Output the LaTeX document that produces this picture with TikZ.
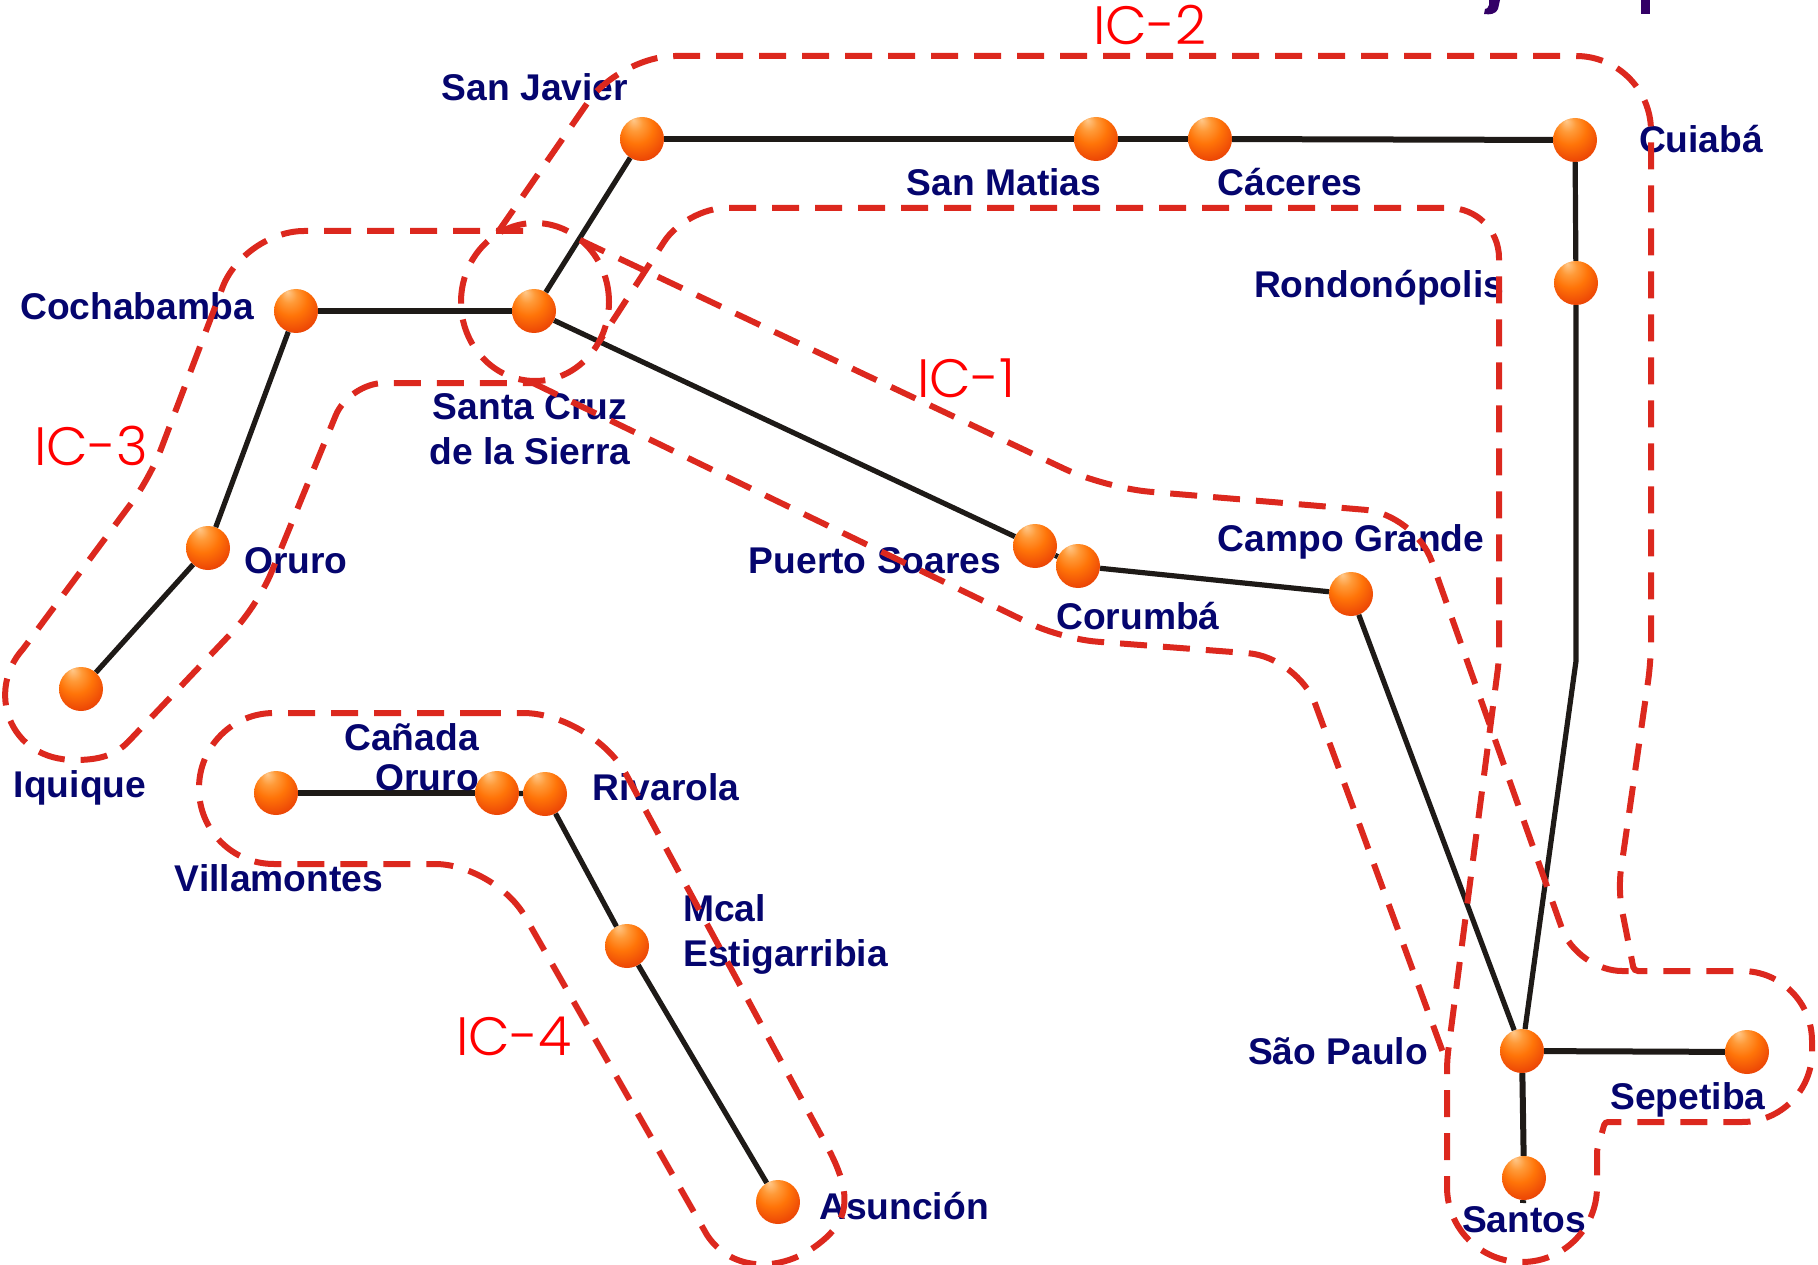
\documentclass[tikz,border=0pt]{standalone}
\usepackage{fontspec}
\setmainfont{Liberation Sans}
\newfontfamily\zonefont{Poppins Light}
\definecolor{dashred}{HTML}{DC281E}
\definecolor{labelblue}{HTML}{05056E}
\definecolor{linedark}{HTML}{1E1A17}
\definecolor{titlepurple}{HTML}{330066}
\definecolor{ballA}{HTML}{FFC88A}
\definecolor{ballB}{HTML}{FF9A38}
\definecolor{ballC}{HTML}{FF7408}
\definecolor{ballD}{HTML}{EE4A06}
\definecolor{ballE}{HTML}{D02A00}
\definecolor{ballF}{HTML}{B81E00}
\pgfdeclareradialshading{ballorange}{\pgfpoint{-10bp}{22bp}}{
  color(0bp)=(ballA); color(9bp)=(ballB); color(19bp)=(ballC); color(31bp)=(ballD); color(42bp)=(ballE); color(50bp)=(ballF)}
\tikzset{
  dotball/.style={circle,minimum size=44pt,inner sep=0pt,shading=ballorange},
  link/.style={draw=linedark,line width=5.2pt},
  thicklink/.style={draw=linedark,line width=6pt},
  zone/.style={draw=dashred,line width=6pt,dash pattern=on 27pt off 16pt},
  place/.style={text=labelblue,inner sep=0pt,font=\bfseries\fontsize{37.2}{45}\selectfont},
  zonename/.style={text=red,inner sep=0pt,font=\zonefont\fontsize{54}{60}\selectfont}
}
\begin{document}
\begin{tikzpicture}[x=1pt,y=-1pt]
\useasboundingbox (0,0) rectangle (1818,1265);
% clipped title fragments
\fill[titlepurple] (1641,0) rectangle (1650,14);
\fill[titlepurple] (1489,0) -- (1500,0) -- (1498,9) .. controls (1496,14) and (1490,15) .. (1484,14) -- (1485,9) .. controls (1487,9) and (1488,8) .. (1489,5) -- cycle;
\coordinate (bend) at (1576,661);
\coordinate (santostail) at (1523,1203);
% dots
\node[dotball] (sanjavier) at (642,139) {};
\node[dotball] (sanmatias) at (1096,139) {};
\node[dotball] (caceres) at (1210,139) {};
\node[dotball] (cuiaba) at (1575,140) {};
\node[dotball] (rondonopolis) at (1576,283) {};
\node[dotball] (santacruz) at (534,311) {};
\node[dotball] (cochabamba) at (296,311) {};
\node[dotball] (oruro) at (208,548) {};
\node[dotball] (iquique) at (81,689) {};
\node[dotball] (puertosoares) at (1035,546) {};
\node[dotball] (corumba) at (1078,566) {};
\node[dotball] (campogrande) at (1351,594) {};
\node[dotball] (saopaulo) at (1522,1051) {};
\node[dotball] (sepetiba) at (1747,1052) {};
\node[dotball] (santos) at (1524,1178) {};
\node[dotball] (villamontes) at (276,793) {};
\node[dotball] (canada) at (497,793) {};
\node[dotball] (rivarola) at (545,794) {};
\node[dotball] (mcal) at (627,946) {};
\node[dotball] (asuncion) at (778,1202) {};
% links
\draw[thicklink] (sanjavier) -- (sanmatias);
\draw[thicklink] (sanmatias) -- (caceres);
\draw[thicklink] (caceres) -- (cuiaba);
\draw[link] (cuiaba) -- (rondonopolis);
\draw[link] (rondonopolis) -- (bend) -- (saopaulo);
\draw[link] (santacruz) -- (sanjavier);
\draw[link] (cochabamba) -- (santacruz);
\draw[link] (cochabamba) -- (oruro);
\draw[link] (oruro) -- (iquique);
\draw[link] (santacruz) -- (puertosoares);
\draw[link] (puertosoares) -- (corumba);
\draw[link] (corumba) -- (campogrande);
\draw[link] (campogrande) -- (saopaulo);
\draw[thicklink] (saopaulo) -- (sepetiba);
\draw[thicklink] (saopaulo) -- (santos);
\draw[thicklink] (santos) -- (santostail);
\draw[thicklink] (villamontes) -- (canada);
\draw[link] (canada) -- (rivarola);
\draw[link] (rivarola) -- (mcal);
\draw[link] (mcal) -- (asuncion);
% labels
\node[place] (lsanjavier) at (535,87) {San Javier};
\node[place] (lsanmatias) at (1004,182) {San Matias};
\node[place] (lcaceres) at (1290,182) {Cáceres};
\node[place] (lcuiaba) at (1701,139) {Cuiabá};
\node[place] (lrondonopolis) at (1379,288) {Rondonópolis};
\node[place] (lcochabamba) at (137,306) {Cochabamba};
\node[place,align=center] (lsantacruz) at (530,429) {Santa Cruz\\de la Sierra};
\node[place] (loruro) at (296,561) {Oruro};
\node[place] (liquique) at (80,788) {Iquique};
\node[place] (lpuertosoares) at (875,561) {Puerto Soares};
\node[place] (lcorumba) at (1138,616) {Corumbá};
\node[place] (lcampogrande) at (1351,542) {Campo Grande};
\node[place] (lsaopaulo) at (1338,1051) {São Paulo};
\node[place] (lsepetiba) at (1688,1100) {Sepetiba};
\node[place] (lsantos) at (1524,1220) {Santos};
\node[place,align=right,anchor=east] (lcanada) at (479,757) {Cañada\\[-5pt]Oruro};
\node[place] (lrivarola) at (666,787) {Rivarola};
\node[place] (lvillamontes) at (279,878) {Villamontes};
\node[place,align=left,anchor=west] (lmcal) at (683,934) {Mcal\\Estigarribia};
\node[place] (lasuncion) at (904,1206) {Asunción};
\node[zonename] (ic3) at (91,446) {IC-3};
\node[zonename] (ic1) at (966,378) {IC-1};
\node[zonename] (ic4) at (514,1036) {IC-4};
\node[zonename] (ic2) at (1150,25) {IC-2};
% dashed zones
\draw[zone] (535,302) ellipse [x radius=74pt,y radius=79pt];
% IC-2
\draw[zone] (498,232)
  [rounded corners=55pt] -- (620,56)
  [rounded corners=75pt] -- (1651,56)
  [rounded corners=20pt] -- (1651,661) -- (1618,890)
  [rounded corners=4pt] -- (1634,971)
  [rounded corners=70pt] -- (1812,971) -- (1812,1122)
  [rounded corners=3pt] -- (1605,1122) -- (1597,1150)
  [rounded corners=75pt] -- (1597,1262) -- (1447,1262)
  [rounded corners=10pt] -- (1447,1060) -- (1499,660)
  [rounded corners=50pt] -- (1499,208)
  [rounded corners=40pt] -- (686,208)
  [sharp corners] -- (599,342);
% IC-1 edges
\draw[zone] (580,240)
  [rounded corners=45pt] -- (1105,488)
  [rounded corners=50pt] -- (1415,514)
  [rounded corners=45pt] -- (1577,971)
  [sharp corners] -- (1632,971);
\draw[zone] (533,383)
  [rounded corners=35pt] -- (1062,639)
  [rounded corners=50pt] -- (1298,657)
  [sharp corners] -- (1445,1058);
% IC-3
\draw[zone] (523,231)
  [rounded corners=60pt] -- (244,231)
  [rounded corners=30pt] -- (150,478)
  [sharp corners] -- (23,649) .. controls (-14,690) and (8,760) .. (75,760) .. controls (100,760) and (115,755) .. (128,742)
  [rounded corners=35pt] -- (258,605) -- (349,383)
  [sharp corners] -- (533,383);
% IC-4
\draw[zone] (487,713)
  [rounded corners=75pt] -- (199,713) -- (199,864)
  [rounded corners=60pt] -- (495,864)
  [sharp corners] -- (707,1235) .. controls (730,1270) and (775,1272) .. (810,1250) .. controls (848,1225) and (855,1200) .. (829,1150)
  [rounded corners=70pt] -- (593,713)
  [sharp corners] -- (487,713);
\end{tikzpicture}
\end{document}
